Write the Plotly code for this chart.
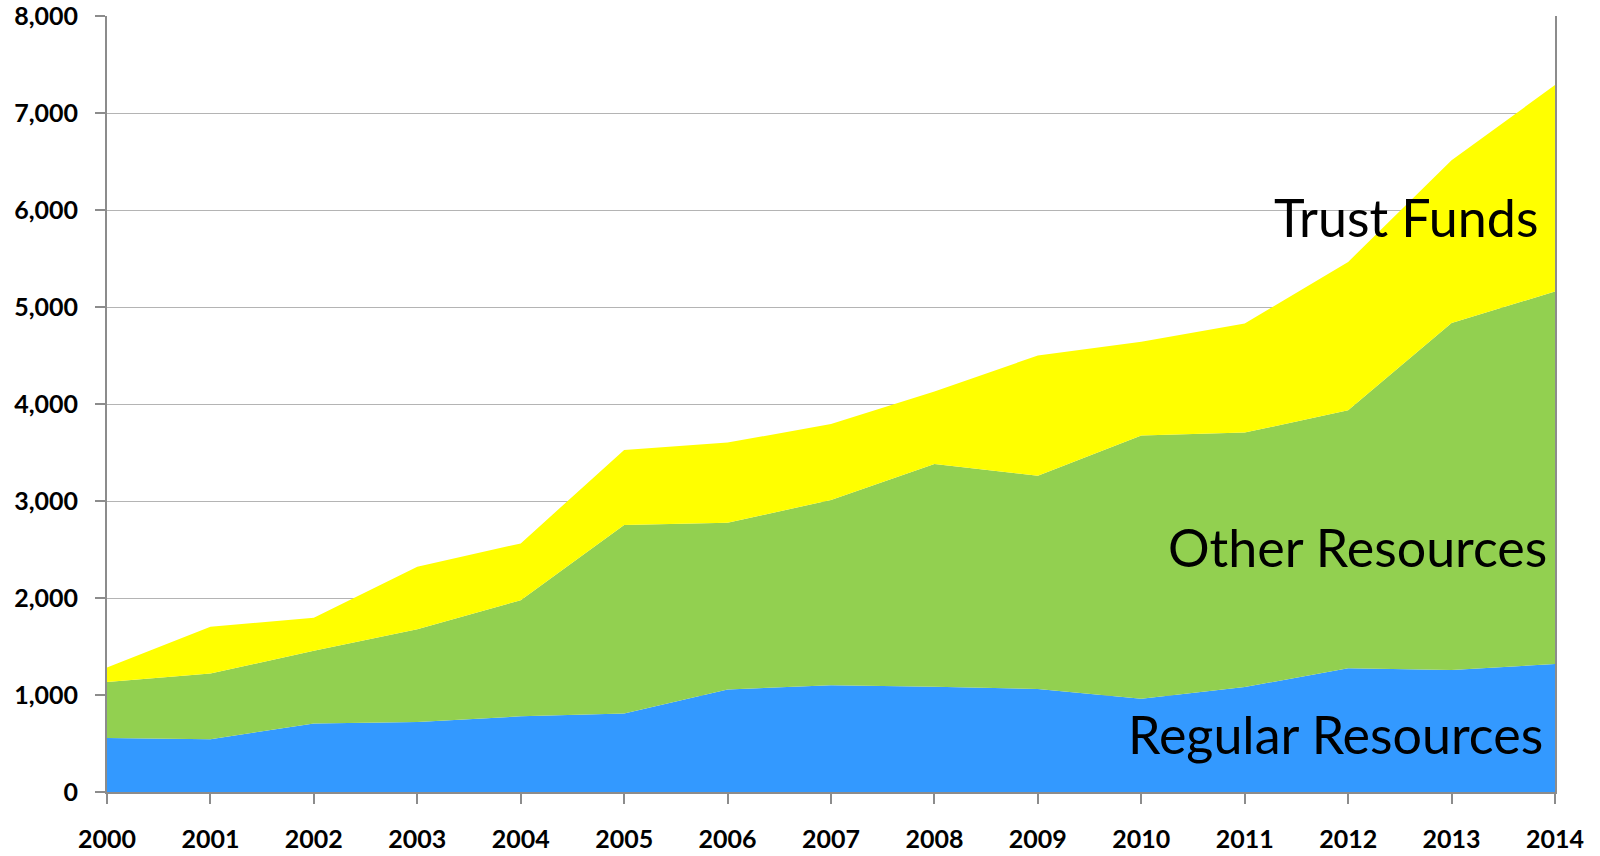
import plotly.graph_objects as go

years = list(range(2000, 2015))
regular_resources = [557, 545, 706, 722, 780, 809, 1057, 1100, 1084, 1062, 962, 1082, 1275, 1258, 1320]
other_resources = [578, 677, 749, 957, 1198, 1943, 1719, 1910, 2298, 2198, 2714, 2623, 2660, 3578, 3839]
trust_funds = [149, 481, 341, 643, 585, 774, 826, 785, 748, 1240, 967, 1125, 1530, 1676, 2129]

y_ticks = [0, 1000, 2000, 3000, 4000, 5000, 6000, 7000, 8000]
y_tick_labels = ["0", "1,000", "2,000", "3,000", "4,000", "5,000", "6,000", "7,000", "8,000"]

series = [
    ("Regular Resources", regular_resources, "#3399FF"),
    ("Other Resources", other_resources, "#92D050"),
    ("Trust Funds", trust_funds, "#FFFF00"),
]

fig = go.Figure()
for name, vals, col in series:
    fig.add_trace(go.Scatter(
        x=years, y=vals, name=name, mode="lines",
        stackgroup="one", line=dict(width=0, color=col),
        fillcolor=col, hoverinfo="x+y+name",
    ))

label_font = dict(family="Lato, 'Open Sans', sans-serif", size=52, color="black")
fig.add_annotation(text="Trust Funds", xref="paper", yref="paper", x=0.9897, y=0.741,
                   xanchor="right", yanchor="middle", showarrow=False, font=label_font)
fig.add_annotation(text="Other Resources", xref="paper", yref="paper", x=0.9958, y=0.3155,
                   xanchor="right", yanchor="middle", showarrow=False, font=label_font)
fig.add_annotation(text="Regular Resources", xref="paper", yref="paper", x=0.993, y=0.0748,
                   xanchor="right", yanchor="middle", showarrow=False, font=label_font)

tick_font = dict(family="Lato, 'DejaVu Sans', sans-serif", size=25, color="black", weight="bold")

fig.update_layout(
    width=1600, height=856,
    margin=dict(l=107, r=45, t=16, b=64, autoexpand=False),
    paper_bgcolor="white", plot_bgcolor="white",
    showlegend=False,
    xaxis=dict(
        range=[2000, 2014], tickmode="array", tickvals=years, ticktext=[str(y) for y in years],
        showgrid=False, showline=True, linecolor="#8C8C8C", linewidth=2,
        ticks="outside", ticklen=10, tickcolor="#8C8C8C", tickwidth=2,
        tickfont=tick_font, ticklabelstandoff=14, zeroline=False,
        automargin=False, ticklabeloverflow="allow",
    ),
    yaxis=dict(
        range=[0, 8000], tickmode="array", tickvals=y_ticks, ticktext=y_tick_labels,
        showgrid=True, gridcolor="#B4B4B4", gridwidth=1,
        showline=True, linecolor="#8C8C8C", linewidth=2, mirror=True,
        ticks="outside", ticklen=10, tickcolor="#8C8C8C", tickwidth=2,
        tickfont=tick_font, ticklabelstandoff=12, zeroline=False,
        automargin=False, ticklabeloverflow="allow",
    ),
)

fig.write_html("out.html", config={"displayModeBar": False},
               post_script="document.body.style.margin='0px';document.body.style.overflow='hidden';")
